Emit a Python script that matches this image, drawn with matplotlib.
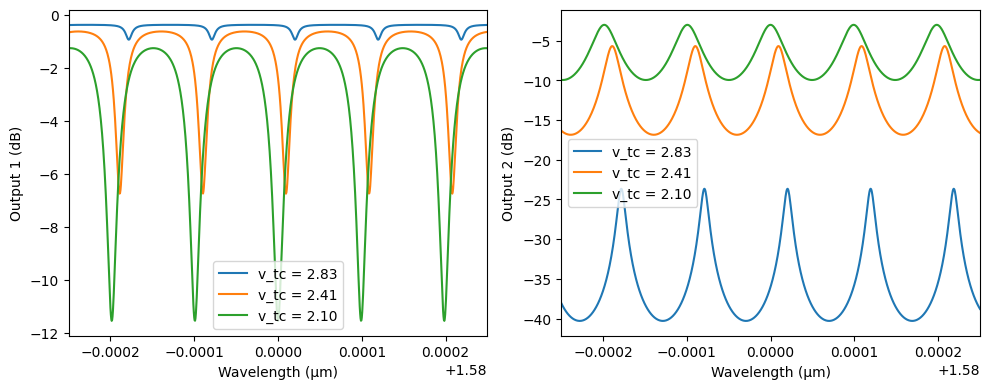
import numpy as np
import matplotlib
matplotlib.use("Agg")
import matplotlib.pyplot as plt

# values
v_tc = [2.83, 2.41, 2.10]
res_shift = [2.03e-5, 0.95e-5, 0.0]      # resonance offset from 1.58 um
fsr = 0.992e-4                           # free spectral range (um)
out1_max_db = [-0.38, -0.63, -1.26]
out1_min_db = [-0.94, -6.75, -11.55]
out2_max_db = [-23.65, -5.68, -3.0]
out2_min_db = [-40.3, -16.85, -9.95]

lam0 = 1.58
wl = np.linspace(lam0 - 0.00025, lam0 + 0.00025, 1001)


def ring_shape(shift, x):
    # normalised Airy response of the ring, 1 on resonance, 0 off resonance
    phi = 2 * np.pi * (wl - lam0 - shift) / fsr
    f = 1.0 / (1 - 2 * x * np.cos(phi) + x ** 2)
    fmin, fmax = 1 / (1 + x) ** 2, 1 / (1 - x) ** 2
    return (f - fmin) / (fmax - fmin)


fig, (ax1, ax2) = plt.subplots(1, 2, figsize=(10, 4), dpi=100)

for i, v in enumerate(v_tc):
    # round trip factor from the drop port extinction
    ratio = np.sqrt(10 ** ((out2_max_db[i] - out2_min_db[i]) / 10))
    x = (ratio - 1) / (ratio + 1)
    s = ring_shape(res_shift[i], x)

    hi1, lo1 = 10 ** (out1_max_db[i] / 10), 10 ** (out1_min_db[i] / 10)
    thru = hi1 - (hi1 - lo1) * s
    hi2, lo2 = 10 ** (out2_max_db[i] / 10), 10 ** (out2_min_db[i] / 10)
    drop = lo2 + (hi2 - lo2) * s

    ax1.plot(wl, 10 * np.log10(thru), label=f"v_tc = {v:.2f}")
    ax2.plot(wl, 10 * np.log10(drop), label=f"v_tc = {v:.2f}")

ax1.set_xlim(wl[0], wl[-1])
ax2.set_xlim(wl[0], wl[-1])
ax1.set_xlabel("Wavelength (µm)")
ax2.set_xlabel("Wavelength (µm)")
ax1.set_ylabel("Output 1 (dB)")
ax2.set_ylabel("Output 2 (dB)")
ax1.legend(loc="lower center")
ax2.legend(loc="center left")

plt.tight_layout()
plt.savefig("out.png", bbox_inches="tight")
